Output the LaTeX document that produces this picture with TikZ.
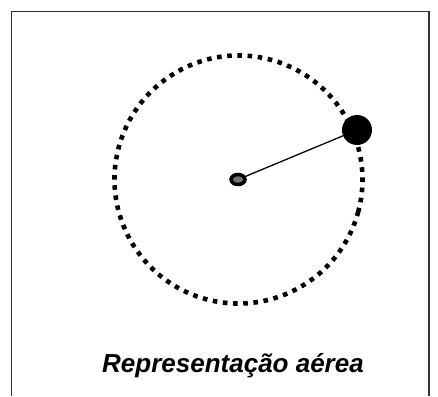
\documentclass[tikz,border=0pt]{standalone}
\usepackage{fontspec}
\setmainfont{Liberation Sans}
\usetikzlibrary{shapes.geometric}
\begin{document}
\begin{tikzpicture}[x=1pt,y=-1pt]
 \useasboundingbox (0,0) rectangle (438,396);
 \draw [black!80,line width=1.5pt] (11.5,396) -- (11.5,11.5) -- (429,11.5) -- (429,396);
 \draw [line width=4.6pt,dash pattern=on 4.6pt off 5.6pt] (238.5,179.5) ++(15:124) arc (15:377:124);
 \node (hub) [draw,fill=black!55,line width=3.5pt,ellipse,inner sep=0pt,minimum width=14pt,minimum height=10pt] at (238,179.5) {};
 \node (mass) [circle,fill=black,inner sep=0pt,minimum size=30pt] at (357,130) {};
 \draw [line width=1.3pt] (hub) -- (mass);
 \node (label) [anchor=base,font=\fontsize{26}{30}\selectfont\bfseries\itshape] at (233,372) {Representação aérea};
\end{tikzpicture}
\end{document}
